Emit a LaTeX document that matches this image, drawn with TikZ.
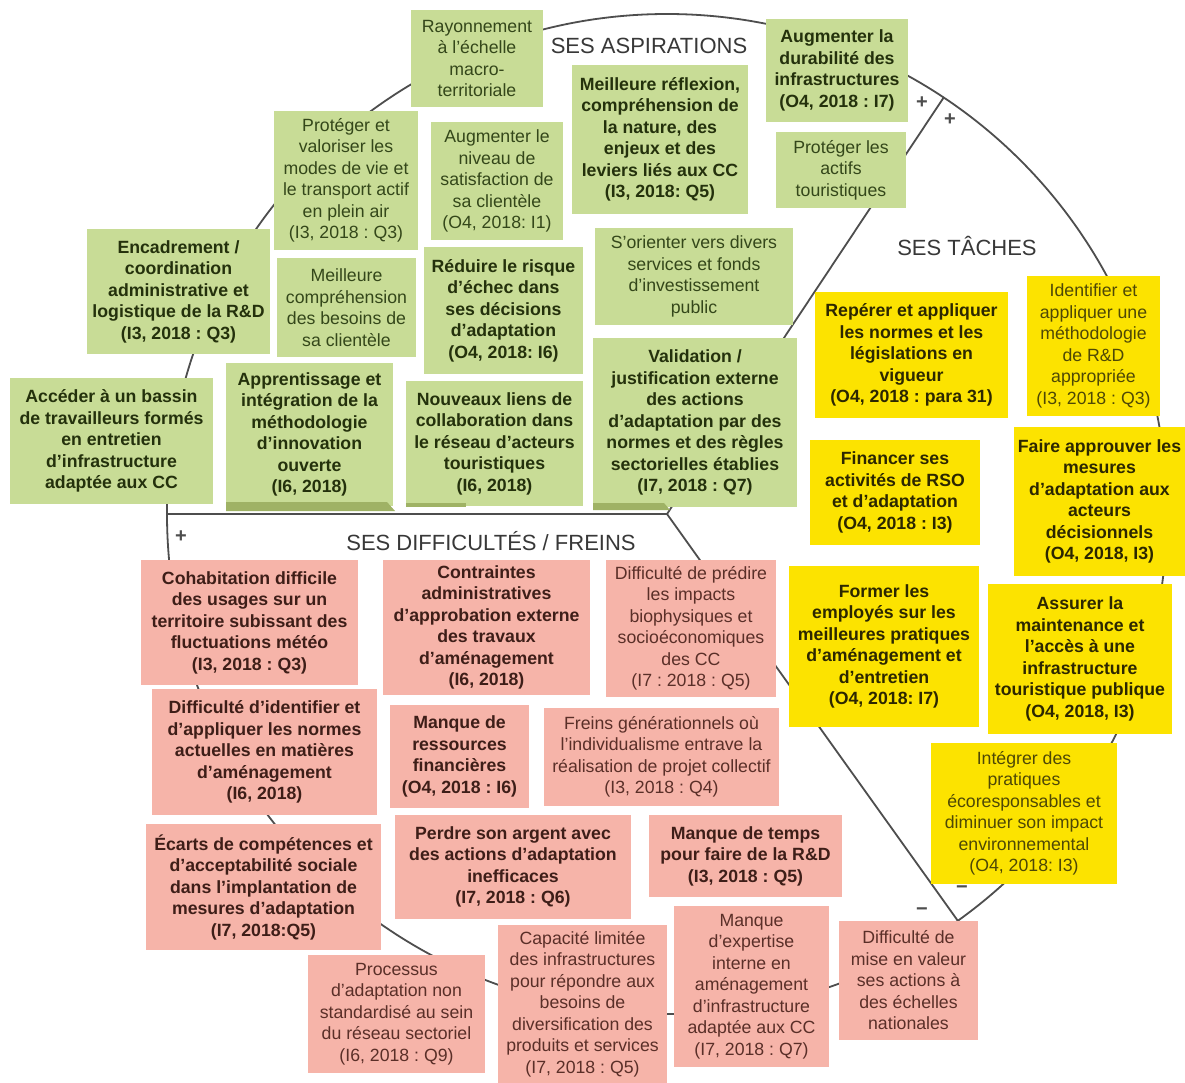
\documentclass[tikz,border=0pt]{standalone}
\usepackage{fontspec}
\setmainfont{Liberation Sans}
\frenchspacing

\definecolor{aspifill}{HTML}{C8DC96}
\definecolor{aspitext}{HTML}{34471A}
\definecolor{aspitextb}{HTML}{24310C}
\definecolor{aspistrip}{HTML}{9FB265}
\definecolor{tachfill}{HTML}{FCE300}
\definecolor{tachtext}{HTML}{4E4806}
\definecolor{tachtextb}{HTML}{2C2700}
\definecolor{difffill}{HTML}{F6B4A9}
\definecolor{difftext}{HTML}{5A2F28}
\definecolor{difftextb}{HTML}{3E1E18}
\definecolor{ringcol}{HTML}{4E4E4E}
\definecolor{titlecol}{HTML}{383838}

% one box: name, style, left, top, right, bottom (pixels), text
\newcommand\cardnode[7]{%
  \pgfmathsetmacro\cardw{(#5-#3)*0.5}%
  \pgfmathsetmacro\cardh{(#6-#4)*0.5}%
  \node[#2, minimum width=\cardw pt, minimum height=\cardh pt] (#1) at ({(#3+#5)/2},{(#4+#6)/2}) {#7};%
}

\begin{document}
\begin{tikzpicture}[x=0.5pt,y=-0.5pt,
  card/.style={inner sep=0pt, align=center},
  regfont/.style={font=\fontsize{8.85}{10.75}\selectfont},
  boldfont/.style={font=\fontsize{8.85}{10.75}\selectfont\bfseries},
  aspi/.style={card, regfont, fill=aspifill, text=aspitext},
  aspib/.style={card, boldfont, fill=aspifill, text=aspitextb},
  tach/.style={card, regfont, fill=tachfill, text=tachtext},
  tachb/.style={card, boldfont, fill=tachfill, text=tachtextb},
  diff/.style={card, regfont, fill=difffill, text=difftext},
  diffb/.style={card, boldfont, fill=difffill, text=difftextb},
  ring/.style={draw=ringcol, line width=0.9pt},
  sectiontitle/.style={font=\fontsize{11}{13}\selectfont, text=titlecol, inner sep=0pt},
  sign/.style={font=\fontsize{10}{12}\selectfont\bfseries, text=ringcol, inner sep=0pt},
  strip/.style={fill=aspistrip}
]
\fill[white] (0,0) rectangle (1185,1083);
\useasboundingbox (0,0) rectangle (1185,1083);

% the ring and its three dividing radii
\coordinate (O) at (667,514);
\coordinate (rtop) at (944,97);
\coordinate (rbot) at (958,921);
\coordinate (rleft) at (167,514);
\draw[ring] (O) circle[radius=250pt];
\draw[ring] (O) -- (rtop);
\draw[ring] (O) -- (rbot);
\draw[ring] (O) -- (rleft);

% section titles
\node[sectiontitle] (tasp) at (649,46) {SES ASPIRATIONS};
\node[sectiontitle] (ttac) at (967,246) {SES TÂCHES};
\node[sectiontitle] (tdif) at (491,541) {SES DIFFICULTÉS / FREINS};

% aspirations
\cardnode{rayon}{aspi}{411}{10}{543}{107}{Rayonnement\\à l’échelle\\macro-\\territoriale}
\cardnode{durab}{aspib}{766}{19}{908}{122}{Augmenter la\\durabilité des\\infrastructures\\(O4, 2018 : I7)}
\cardnode{reflex}{aspib}{572}{65}{748}{214}{Meilleure réflexion,\\compréhension de\\la nature, des\\enjeux et des\\leviers liés aux CC\\(I3, 2018: Q5)}
\cardnode{actifs}{aspi}{776}{132}{906}{208}{Protéger les\\actifs\\touristiques}
\cardnode{modes}{aspi}{274}{111}{418}{250}{Protéger et\\valoriser les\\modes de vie et\\le transport actif\\en plein air\\(I3, 2018 : Q3)}
\cardnode{satisf}{aspi}{431}{122}{563}{240}{Augmenter le\\niveau de\\satisfaction de\\sa clientèle\\(O4, 2018: I1)}
\cardnode{encadr}{aspib}{87}{229}{270}{354}{Encadrement /\\coordination\\administrative et\\logistique de la R\&D\\(I3, 2018 : Q3)}
\cardnode{besoins}{aspi}{277}{258}{416}{357}{Meilleure\\compréhension\\des besoins de\\sa clientèle}
\cardnode{risque}{aspib}{424}{247}{583}{374}{Réduire le risque\\d’échec dans\\ses décisions\\d’adaptation\\(O4, 2018: I6)}
\cardnode{fonds}{aspi}{595}{228}{793}{325}{S’orienter vers divers\\services et fonds\\d’investissement\\public}
\cardnode{bassin}{aspib}{10}{378}{213}{504}{Accéder à un bassin\\de travailleurs formés\\en entretien\\d’infrastructure\\adaptée aux CC}
\cardnode{apprent}{aspib}{226}{363}{393}{506}{Apprentissage et\\intégration de la\\méthodologie\\d’innovation\\ouverte\\(I6, 2018)}
\cardnode{liens}{aspib}{406}{381}{583}{506}{Nouveaux liens de\\collaboration dans\\le réseau d’acteurs\\touristiques\\(I6, 2018)}
\cardnode{valid}{aspib}{593}{338}{797}{507}{Validation /\\justification externe\\des actions\\d’adaptation par des\\normes et des règles\\sectorielles établies\\(I7, 2018 : Q7)}
% darker bands under the lower aspiration boxes
\fill[strip] (226,502) -- (387,502) -- (395,511) -- (226,511) -- cycle;
\fill[strip] (406,503) -- (466,503) -- (466,507) -- (406,507) -- cycle;
\fill[strip] (593,503) -- (664,503) -- (670,510) -- (593,510) -- cycle;

% tasks
\cardnode{reperer}{tachb}{815}{292}{1008}{418}{Repérer et appliquer\\les normes et les\\législations en\\vigueur\\(O4, 2018 : para 31)}
\cardnode{identif}{tach}{1027}{276}{1160}{416}{Identifier et\\appliquer une\\méthodologie\\de R\&D\\appropriée\\(I3, 2018 : Q3)}
\cardnode{financ}{tachb}{810}{440}{980}{545}{Financer ses\\activités de RSO\\et d’adaptation\\(O4, 2018 : I3)}
\cardnode{approuv}{tachb}{1014}{427}{1185}{576}{Faire approuver les\\mesures\\d’adaptation aux\\acteurs\\décisionnels\\(O4, 2018, I3)}
\cardnode{former}{tachb}{789}{566}{979}{727}{Former les\\employés sur les\\meilleures pratiques\\d’aménagement et\\d’entretien\\(O4, 2018: I7)}
\cardnode{assurer}{tachb}{988}{584}{1172}{734}{Assurer la\\maintenance et\\l’accès à une\\infrastructure\\touristique publique\\(O4, 2018, I3)}
\cardnode{integr}{tach}{931}{743}{1117}{884}{Intégrer des\\pratiques\\écoresponsables et\\diminuer son impact\\environnemental\\(O4, 2018: I3)}

% difficulties
\cardnode{cohab}{diffb}{141}{560}{358}{685}{Cohabitation difficile\\des usages sur un\\territoire subissant des\\fluctuations météo\\(I3, 2018 : Q3)}
\cardnode{contr}{diffb}{383}{560}{590}{695}{Contraintes\\administratives\\d’approbation externe\\des travaux\\d’aménagement\\(I6, 2018)}
\cardnode{predire}{diff}{606}{560}{776}{697}{Difficulté de prédire\\les impacts\\biophysiques et\\socioéconomiques\\des CC\\(I7 : 2018 : Q5)}
\cardnode{normes}{diffb}{152}{689}{377}{815}{Difficulté d’identifier et\\d’appliquer les normes\\actuelles en matières\\d’aménagement\\(I6, 2018)}
\cardnode{ressour}{diffb}{390}{705}{529}{808}{Manque de\\ressources\\financières\\(O4, 2018 : I6)}
\cardnode{freins}{diff}{544}{708}{779}{806}{Freins générationnels où\\l’individualisme entrave la\\réalisation de projet collectif\\(I3, 2018 : Q4)}
\cardnode{ecarts}{diffb}{146}{824}{381}{950}{Écarts de compétences et\\d’acceptabilité sociale\\dans l’implantation de\\mesures d’adaptation\\(I7, 2018:Q5)}
\cardnode{argent}{diffb}{395}{815}{631}{919}{Perdre son argent avec\\des actions d’adaptation\\inefficaces\\(I7, 2018 : Q6)}
\cardnode{temps}{diffb}{649}{815}{842}{897}{Manque de temps\\pour faire de la R\&D\\(I3, 2018 : Q5)}
\cardnode{process}{diff}{308}{955}{485}{1073}{Processus\\d’adaptation non\\standardisé au sein\\du réseau sectoriel\\(I6, 2018 : Q9)}
\cardnode{capac}{diff}{498}{925}{667}{1083}{Capacité limitée\\des infrastructures\\pour répondre aux\\besoins de\\diversification des\\produits et services\\(I7, 2018 : Q5)}
\cardnode{expert}{diff}{674}{906}{829}{1067}{Manque\\d’expertise\\interne en\\aménagement\\d’infrastructure\\adaptée aux CC\\(I7, 2018 : Q7)}
\cardnode{valeur}{diff}{839}{921}{978}{1040}{Difficulté de\\mise en valeur\\ses actions à\\des échelles\\nationales}

% signs beside the radii
\node[sign] (ptopa) at (922,103) {+};
\node[sign] (ptopb) at (950,120) {+};
\node[sign] (pleft) at (181,537) {+};
\node[sign] (mbota) at (962,890) {−};
\node[sign] (mbotb) at (922,912) {−};
\end{tikzpicture}
\end{document}
